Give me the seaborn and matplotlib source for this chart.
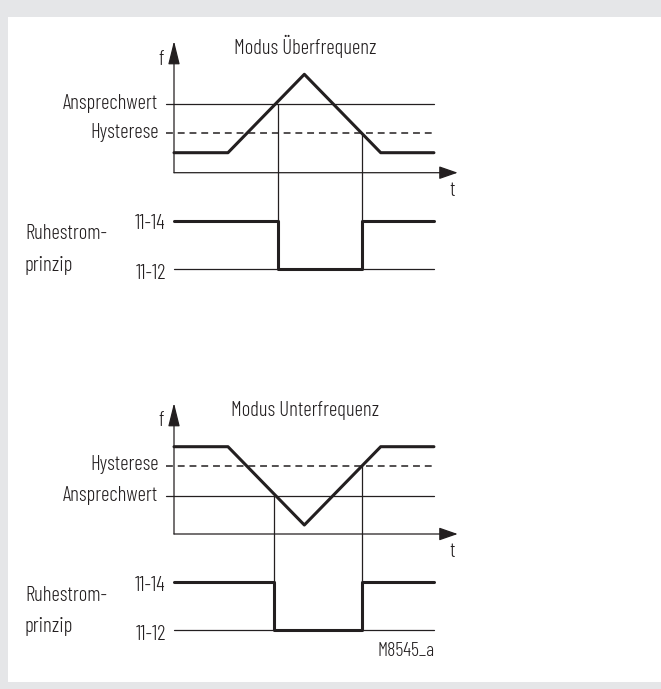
import numpy as np
import pandas as pd
import matplotlib
matplotlib.use("Agg")
import matplotlib.pyplot as plt
from matplotlib.patches import Rectangle
from matplotlib import font_manager as fm
from matplotlib.textpath import TextPath
import seaborn as sns

# ---------------- data ----------------
t_knots = [0.0, 0.71, 1.715, 2.72, 3.42]          # time points of the frequency profile
f_over = [2.0, 2.0, 9.84, 2.0, 2.0]               # Modus Überfrequenz
f_under = [8.73, 8.73, 0.9, 8.73, 8.73]           # Modus Unterfrequenz
over_ansprech, over_hyst = 6.87, 3.94
under_ansprech, under_hyst = 3.83, 6.80
relay_t_over = [0.0, 1.362, 2.478, 3.42]
relay_t_under = [0.0, 1.32, 2.47, 3.42]
relay_states = [1, 0, 1, 1]                       # 1 = 11-14, 0 = 11-12
relay_labels = ["11-14", "11-12"]
titles = ["Modus Überfrequenz", "Modus Unterfrequenz"]
side_label = ["Ruhestrom-", "prinzip"]
code_label = "M8545_a"

# ---------------- font choice (condensed face matching reference proportions) ----------------
sns.set_style("white")
installed = {}
for f in fm.fontManager.ttflist:
    installed.setdefault(f.name, set()).add(f.weight)
cands = ["Roboto Condensed", "Fira Sans Extra Condensed", "Fira Sans Condensed",
         "Barlow Condensed", "Barlow Semi Condensed", "Sofia Sans Condensed",
         "Sofia Sans Extra Condensed", "Archivo Narrow", "PT Sans Narrow",
         "Encode Sans Condensed", "Saira Condensed", "IBM Plex Sans Condensed",
         "Open Sans Condensed", "Liberation Sans Narrow"]
TARGET_CAP_PX, TARGET_W_PX = 15.0, 137.0
best = None
for name in cands:
    if name not in installed:
        continue
    w = 300 if 300 in installed[name] else 400
    try:
        prop = fm.FontProperties(family=name, weight=w)
        cap = TextPath((0, 0), "H", size=10, prop=prop).get_extents().height
        size = 10 * (TARGET_CAP_PX * 72 / 100) / cap
        width = TextPath((0, 0), titles[0], size=size, prop=prop).get_extents().width * 100 / 72
    except Exception:
        continue
    score = abs(width - TARGET_W_PX)
    if best is None or score < best[0]:
        best = (score, name, w, size, width)
if best is None:
    FONT, WEIGHT, FS = "DejaVu Sans", 400, 12.0
else:
    _, FONT, WEIGHT, FS, _w = best
    # compromise between height and width fits
    FS = FS * (0.5 + 0.5 * TARGET_W_PX / _w)
FS = float(np.clip(FS, 10.0, 17.0))
plt.rcParams["font.family"] = [FONT, "DejaVu Sans"]
plt.rcParams["font.weight"] = WEIGHT

INK = "#231f20"
THICK = 2.2
THIN = 0.9

W, H = 661, 689
fig = plt.figure(figsize=(W / 100, H / 100), dpi=100)
fig.patch.set_facecolor("#e5e6e8")
fig.patches.append(Rectangle((8 / W, 7 / H), 1 - 8 / W, 665 / H, transform=fig.transFigure,
                             facecolor="white", edgecolor="none", zorder=-10))

X0, PX_T, PX_F = 174.0, 76.0, 10.0
RELAY_HI, RELAY_LO = -4.8, -9.6


def make_panel(top_px, bot_px, origin_px):
    ax = fig.add_axes([0, 1 - bot_px / H, 1, (bot_px - top_px) / H])
    ax.set_xlim((0 - X0) / PX_T, (W - X0) / PX_T)
    ax.set_ylim((origin_px - bot_px) / PX_F, (origin_px - top_px) / PX_F)
    ax.set_axis_off()
    ax.patch.set_alpha(0)
    ax.set_zorder(5)
    return ax


def px(ax_origin, x, y):
    return (x - X0) / PX_T, (ax_origin - y) / PX_F


def draw_panel(ax, origin, f_vals, ansprech, hyst, relay_t, first_thr, second_thr,
               title, labels_order, label_ys, f_top, dy):
    t_end = t_knots[-1]
    # thresholds
    ax.plot([-0.1, t_end], [ansprech, ansprech], color=INK, lw=THIN, zorder=2)
    ax.plot([-0.1, t_end], [hyst, hyst], color=INK, lw=1.1, ls=(0, (4.5, 3.2)), zorder=2)
    # axes arrows
    ax.annotate("", xy=(0, f_top), xytext=(0, 0),
                arrowprops=dict(arrowstyle="-|>,head_length=14.5,head_width=3.6",
                                mutation_scale=1, lw=THIN, color=INK, shrinkA=0, shrinkB=0))
    ax.annotate("", xy=(3.733, 0), xytext=(0, 0),
                arrowprops=dict(arrowstyle="-|>,head_length=11.5,head_width=4.0",
                                mutation_scale=1, lw=THIN, color=INK, shrinkA=0, shrinkB=0))
    # frequency profile
    df = pd.DataFrame({"t": t_knots, "f": f_vals})
    sns.lineplot(data=df, x="t", y="f", ax=ax, color=INK, lw=THICK, estimator=None,
                 sort=False, legend=False, zorder=4)
    # relay baseline 11-12
    ax.plot([0, t_end], [RELAY_LO, RELAY_LO], color=INK, lw=THIN, zorder=2)
    # vertical switching guides
    ax.plot([relay_t[1], relay_t[1]], [first_thr, RELAY_LO], color=INK, lw=THIN, zorder=2)
    ax.plot([relay_t[2], relay_t[2]], [second_thr, RELAY_LO], color=INK, lw=THIN, zorder=2)
    # relay state
    rd = pd.DataFrame({"t": relay_t,
                       "y": [RELAY_LO + s * (RELAY_HI - RELAY_LO) for s in relay_states]})
    sns.lineplot(data=rd, x="t", y="y", ax=ax, color=INK, lw=THICK, estimator=None,
                 sort=False, legend=False, drawstyle="steps-post", zorder=4)

    # texts (positions in pixels converted to data)
    def txt(x, y, s, ha, size=FS):
        xx, yy = px(origin, x, y)
        ax.text(xx, yy, s, ha=ha, va="baseline", fontsize=size, color=INK)

    txt(305.5, 54.3 + dy, title, "center")
    txt(161.0, 65.0 + dy, "f", "center")
    txt(452.0, 196.0 + dy, "t", "center")
    for lab, y in zip(labels_order, label_ys):
        txt(158.5, y, lab, "right")
    txt(165.7, 229.3 + dy, relay_labels[0], "right")
    txt(165.7, 278.5 + dy, relay_labels[1], "right")
    txt(25.0, 239.3 + dy, side_label[0], "left")
    txt(25.0, 271.0 + dy, side_label[1], "left")


# top panel
ax1 = make_panel(20, 345, 172.7)
draw_panel(ax1, 172.7, f_over, over_ansprech, over_hyst, relay_t_over,
           over_ansprech, over_hyst, titles[0], ["Ansprechwert", "Hysterese"],
           [109.0, 138.3], 13.17, 0.0)

# bottom panel
ax2 = make_panel(350, 682, 534.0)
draw_panel(ax2, 534.0, f_under, under_ansprech, under_hyst, relay_t_under,
           under_ansprech, under_hyst, titles[1], ["Hysterese", "Ansprechwert"],
           [470.5, 500.7], 13.1, 361.4)
cx, cy = px(534.0, 435.0, 656.0)
ax2.text(cx, cy, code_label, ha="right", va="baseline", fontsize=FS * 0.95, color=INK)

fig.savefig("out.png", dpi=100)
